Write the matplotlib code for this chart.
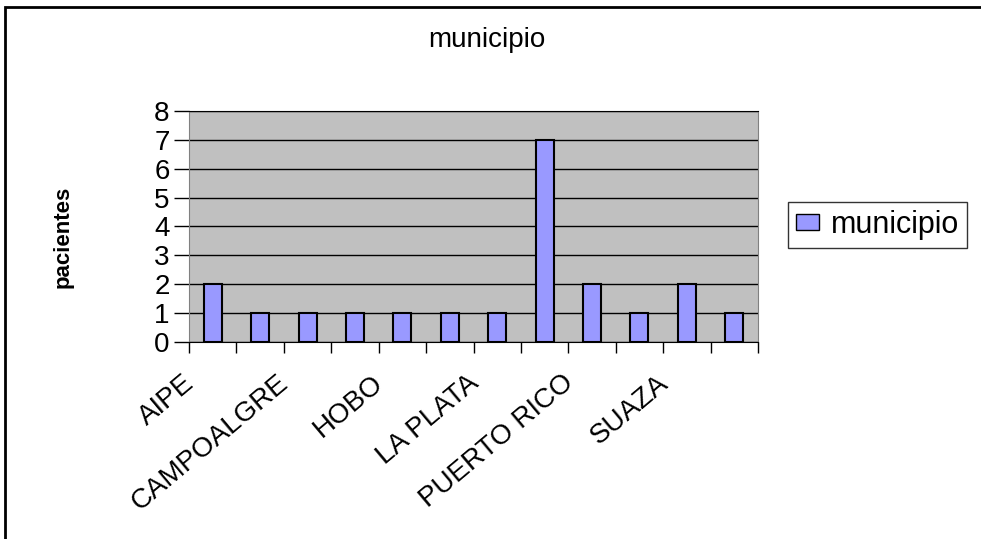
import matplotlib
matplotlib.use("Agg")
import matplotlib.pyplot as plt
from matplotlib.patches import Rectangle

plt.rcParams['font.family'] = ['Liberation Sans', 'DejaVu Sans']

# data
pacientes = [2, 1, 1, 1, 1, 1, 1, 7, 2, 1, 2, 1]
# only every other category label is shown on the axis
etiquetas = ["AIPE", "CAMPOALGRE", "HOBO", "LA PLATA", "PUERTO RICO", "SUAZA"]
etiqueta_pos = [0, 2, 4, 6, 8, 10]
yticks = [0, 1, 2, 3, 4, 5, 6, 7, 8]

fig = plt.figure(figsize=(9.81, 5.39), dpi=100)
ax = fig.add_axes([0.1927, 0.3655, 0.58, 0.4286])

x = list(range(len(pacientes)))
ax.bar(x, pacientes, width=0.38, color="#9999FF", edgecolor="black",
       linewidth=1.5, label="municipio", zorder=3)

ax.set_facecolor("#C0C0C0")
ax.set_xlim(-0.5, len(pacientes) - 0.5)
ax.set_ylim(0, 8)
ax.set_yticks(yticks)
ax.grid(axis="y", color="black", linewidth=1, zorder=1)
ax.tick_params(axis="y", labelsize=20, length=11, width=1, pad=3)

# category ticks on the boundaries
ax.set_xticks([i - 0.5 for i in range(len(pacientes) + 1)])
ax.set_xticklabels([])
ax.tick_params(axis="x", length=8, width=1)
for pos, name in zip(etiqueta_pos, etiquetas):
    ax.annotate(name, xy=(pos, 0), xytext=(-22, -20), textcoords="offset points",
                rotation=40, rotation_mode="anchor", ha="right", va="top",
                fontsize=20, annotation_clip=False)

ax.spines["top"].set_color("black")
ax.spines["right"].set_color("#808080")
ax.spines["left"].set_color("#808080")
ax.spines["bottom"].set_color("black")

fig.text(0.496, 0.9128, "municipio", ha="center", va="baseline", fontsize=20)
fig.text(0.064, 0.56, "pacientes", rotation=90, ha="center", va="center",
         fontsize=16, fontweight="bold")

leg = fig.legend(loc="center", bbox_to_anchor=(0.8945, 0.5826), fontsize=22,
                 frameon=True, fancybox=False, edgecolor="black",
                 handlelength=0.75, handleheight=0.45, handletextpad=0.4,
                 borderpad=0.25, borderaxespad=0)
leg.get_frame().set_linewidth(1)
for h in leg.legend_handles:
    h.set_linewidth(1)

# outer chart frame, runs off the right and bottom edges
fig.patches.append(Rectangle((5 / 981, -0.1), 1.2, 1 - 7 / 539 + 0.1,
                             transform=fig.transFigure, fill=False,
                             edgecolor="black", linewidth=2))

fig.savefig("out.png", dpi=100)
